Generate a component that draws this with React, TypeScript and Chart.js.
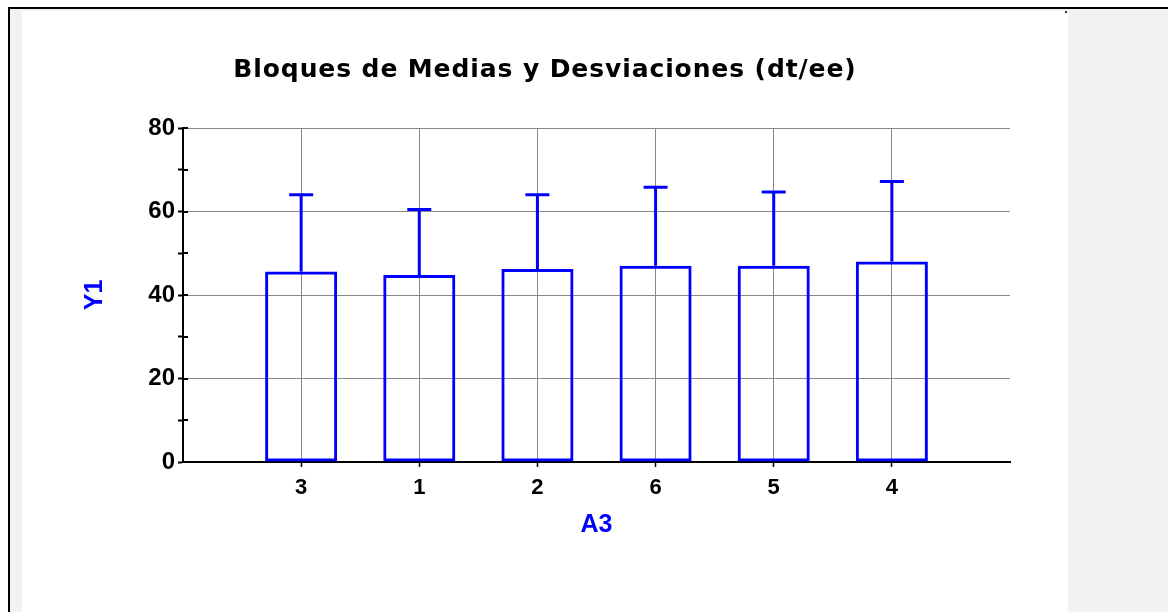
import { useEffect, useRef } from 'react';
import { Chart, registerables } from 'chart.js';

Chart.register(...registerables);

const TITLE = 'Bloques de Medias y Desviaciones (dt/ee)';
const X_TITLE = 'A3';
const Y_TITLE = 'Y1';
const CATEGORIES = ['3', '1', '2', '6', '5', '4'];
const MEANS = [45.6, 44.8, 46.2, 47.0, 47.0, 48.0];
const DEVIATIONS = [18.4, 15.7, 17.8, 18.8, 17.7, 19.2];
const Y_TICK_LABELS = [0, 20, 40, 60, 80];

const BLUE = '#0000ff';
const GRID = '#888888';
const SANS = "'Liberation Sans', Arial, sans-serif";

const errorBarPlugin = {
  id: 'errorBars',
  afterDatasetsDraw(chart: any) {
    const { ctx, scales } = chart;
    const xs = scales.x;
    const ys = scales.y;
    ctx.save();
    ctx.strokeStyle = BLUE;
    ctx.lineWidth = 3;
    ctx.lineCap = 'butt';
    CATEGORIES.forEach((_, i) => {
      const x = xs.getPixelForValue(i + 1);
      const yBase = ys.getPixelForValue(MEANS[i]);
      const yTop = ys.getPixelForValue(MEANS[i] + DEVIATIONS[i]);
      ctx.beginPath();
      ctx.moveTo(x, yBase);
      ctx.lineTo(x, yTop);
      ctx.moveTo(x - 12, yTop);
      ctx.lineTo(x + 12, yTop);
      ctx.stroke();
    });
    ctx.restore();
  },
};

const innerTicksPlugin = {
  id: 'innerTicks',
  beforeDatasetsDraw(chart: any) {
    const { ctx, scales, chartArea } = chart;
    const ys = scales.y;
    ctx.save();
    ctx.strokeStyle = '#000';
    ctx.lineWidth = 2;
    ys.ticks.forEach((t: any) => {
      const y = Math.round(ys.getPixelForValue(t.value));
      ctx.beginPath();
      ctx.moveTo(chartArea.left, y);
      ctx.lineTo(chartArea.left + 5, y);
      ctx.stroke();
    });
    ctx.restore();
  },
};

const titleSpacingPlugin = {
  id: 'titleSpacing',
  beforeDraw(chart: any) {
    const tb = chart.titleBlock;
    if (tb && !tb.__spaced) {
      const orig = tb.draw;
      tb.draw = function (...args: any[]) {
        const c = chart.ctx;
        c.save();
        c.letterSpacing = '0.9px';
        orig.apply(this, args);
        c.restore();
      };
      tb.__spaced = true;
    }
  },
};

export default function App() {
  const ref = useRef<HTMLCanvasElement | null>(null);

  useEffect(() => {
    if (!ref.current) return;
    const labels = ['', ...CATEGORIES, ''];
    const data = [null, ...MEANS, null];
    const edge = (c: any) => c.index === 0 || c.index === labels.length - 1;
    const chart = new Chart(ref.current, {
      type: 'bar',
      data: {
        labels,
        datasets: [
          {
            data,
            backgroundColor: 'rgba(0,0,0,0)',
            borderColor: BLUE,
            borderWidth: 3,
            borderSkipped: false,
            barPercentage: 0.61,
            categoryPercentage: 1,
          },
        ],
      },
      options: {
        responsive: false,
        animation: false,
        layout: { padding: 0 },
        plugins: {
          legend: { display: false },
          tooltip: { enabled: false },
          title: {
            display: true,
            text: TITLE,
            color: '#000',
            font: { family: "'DejaVu Sans', sans-serif", size: 25, weight: 'bold' },
            padding: { top: 44, bottom: 43 },
          },
        },
        scales: {
          x: {
            type: 'category',
            offset: false,
            afterFit(scale: any) {
              scale.height = 150;
            },
            grid: {
              offset: false,
              color: (c: any) => (edge(c) ? 'rgba(0,0,0,0)' : GRID),
              tickColor: (c: any) => (edge(c) ? 'rgba(0,0,0,0)' : '#000'),
              lineWidth: 1,
              tickWidth: 1.5,
              tickLength: 5,
            },
            border: { display: true, color: '#000', width: 2 },
            ticks: {
              autoSkip: false,
              maxRotation: 0,
              color: '#000',
              padding: 8,
              font: { family: SANS, size: 22, weight: 'bold' },
            },
            title: {
              display: true,
              text: X_TITLE,
              color: BLUE,
              font: { family: SANS, size: 25, weight: 'bold' },
              padding: { top: 0, bottom: 72 },
            },
          },
          y: {
            min: 0,
            max: 80,
            afterFit(scale: any) {
              scale.width = 161;
            },
            grid: {
              color: (c: any) => (c.tick && c.tick.value % 20 === 0 ? GRID : 'rgba(0,0,0,0)'),
              tickColor: '#000',
              lineWidth: 1,
              tickWidth: 2,
              tickLength: 5,
            },
            border: { display: true, color: '#000', width: 2 },
            ticks: {
              stepSize: 10,
              autoSkip: false,
              color: '#000',
              padding: 3,
              font: { family: SANS, size: 24, weight: 'bold' },
              callback: (v: any) => (Y_TICK_LABELS.includes(Number(v)) ? String(v) : ''),
            },
            title: {
              display: true,
              text: Y_TITLE,
              color: BLUE,
              font: { family: SANS, size: 25, weight: 'bold' },
              padding: { top: 58, bottom: 0 },
            },
          },
          spacer: {
            type: 'linear',
            position: 'right',
            display: true,
            afterFit(scale: any) {
              scale.width = 58;
            },
            grid: { display: false, drawTicks: false },
            border: { display: false },
            ticks: { display: false },
          },
        },
      },
      plugins: [errorBarPlugin, innerTicksPlugin, titleSpacingPlugin],
    });
    return () => chart.destroy();
  }, []);

  const abs = (l: number, t: number, w: number, h: number, bg: string) => ({
    position: 'absolute' as const,
    left: l,
    top: t,
    width: w,
    height: h,
    background: bg,
  });

  return (
    <div style={{ position: 'fixed', left: 0, top: 0, width: 1168, height: 612, background: '#fff', overflow: 'hidden' }}>
      <div style={abs(8, 7, 1160, 2, '#000')} />
      <div style={abs(8, 7, 2, 605, '#000')} />
      <div style={abs(10, 9, 12, 603, '#f2f2f2')} />
      <div style={abs(10, 9, 1058, 2, '#f2f2f2')} />
      <div style={abs(1068, 9, 100, 603, '#f2f2f2')} />
      <div style={abs(1065, 11, 2, 2, '#333')} />
      <div style={{ position: 'absolute', left: 22, top: 11, width: 1046, height: 601 }}>
        <canvas ref={ref} width={1046} height={601} style={{ width: 1046, height: 601, display: 'block' }} />
      </div>
    </div>
  );
}
